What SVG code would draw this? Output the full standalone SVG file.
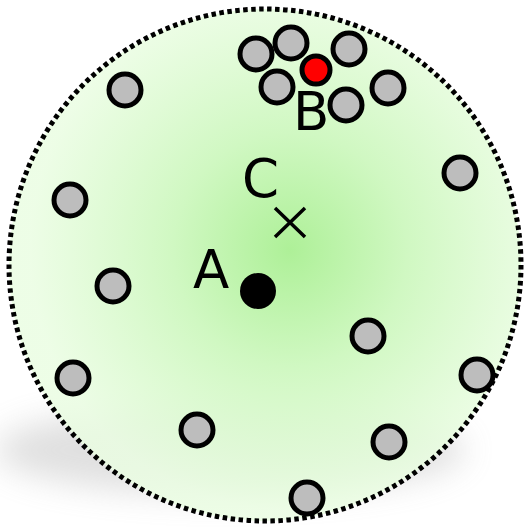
<svg xmlns="http://www.w3.org/2000/svg" width="525" height="528" viewBox="0 0 525 528">
<defs>
  <radialGradient id="g" cx="290" cy="250" r="260" gradientUnits="userSpaceOnUse">
    <stop offset="0" stop-color="#aef098"/>
    <stop offset="0.45" stop-color="#d0f8c2"/>
    <stop offset="1" stop-color="#eafde2" stop-opacity="0.85"/>
  </radialGradient>
  <filter id="blur" x="-50%" y="-100%" width="200%" height="300%">
    <feGaussianBlur stdDeviation="16"/>
  </filter>
  <style>
    .n{fill:#bdbdbd;stroke:#000;stroke-width:5}
    .t{font-family:"DejaVu Sans","Liberation Sans",sans-serif;font-size:53px;fill:#000}
  </style>
</defs>
<g id="shadow">
  <ellipse cx="230" cy="450" rx="235" ry="45" fill="#999" opacity="0.3" filter="url(#blur)"/>
</g>
<g id="region">
  <circle cx="265" cy="265" r="256" fill="url(#g)" stroke="#000" stroke-width="5" stroke-dasharray="4.5 3.5"/>
</g>
<g id="nodes">
  <circle id="n1" class="n" cx="125" cy="90" r="16"/>
  <circle id="n2" class="n" cx="256" cy="54" r="16"/>
  <circle id="n3" class="n" cx="291" cy="43" r="16"/>
  <circle id="n4" class="n" cx="349" cy="49" r="16"/>
  <circle id="n5" class="n" cx="277" cy="87" r="16"/>
  <circle id="n6" class="n" cx="346" cy="105" r="16"/>
  <circle id="n7" class="n" cx="388" cy="88" r="16"/>
  <circle id="n8" class="n" cx="460" cy="173" r="16"/>
  <circle id="n9" class="n" cx="70" cy="200" r="16"/>
  <circle id="n10" class="n" cx="113" cy="286" r="16"/>
  <circle id="n11" class="n" cx="368" cy="336" r="16"/>
  <circle id="n12" class="n" cx="73" cy="378" r="16"/>
  <circle id="n13" class="n" cx="477" cy="375" r="16"/>
  <circle id="n14" class="n" cx="197" cy="430" r="16"/>
  <circle id="n15" class="n" cx="389" cy="442" r="16"/>
  <circle id="n16" class="n" cx="307" cy="498" r="16"/>
  <g id="B">
    <circle cx="316" cy="70" r="14" fill="#ff0000" stroke="#000" stroke-width="5"/>
    <text class="t" x="293" y="130">B</text>
  </g>
  <g id="A">
    <circle cx="258" cy="291" r="18" fill="#000"/>
    <text class="t" x="193" y="288">A</text>
  </g>
  <g id="C">
    <path d="M275 208 L305 237 M305 208 L275 237" stroke="#000" stroke-width="3.5" fill="none"/>
    <text class="t" x="242" y="197">C</text>
  </g>
</g>
</svg>
